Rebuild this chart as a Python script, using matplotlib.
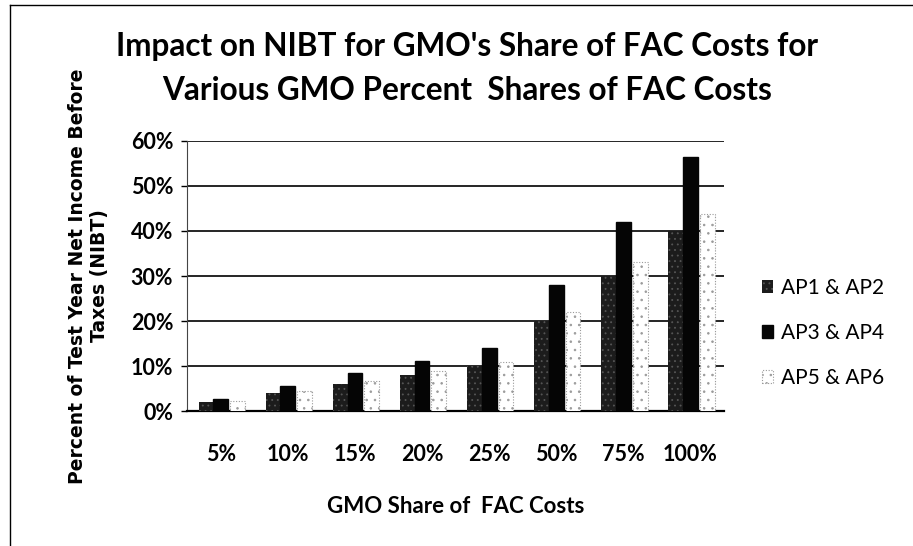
import numpy as np
import matplotlib
matplotlib.use("Agg")
import matplotlib.pyplot as plt
from matplotlib.lines import Line2D
from matplotlib.ticker import PercentFormatter

# data (percent of NIBT)
categories = ["5%", "10%", "15%", "20%", "25%", "50%", "75%", "100%"]
ap1_ap2 = [2.0, 4.0, 6.0, 8.0, 10.0, 20.0, 30.0, 40.0]
ap3_ap4 = [2.8, 5.6, 8.4, 11.2, 14.0, 28.0, 42.0, 56.5]
ap5_ap6 = [2.2, 4.4, 6.6, 8.8, 11.0, 22.0, 33.0, 43.8]
series_names = ["AP1 & AP2", "AP3 & AP4", "AP5 & AP6"]

plt.rcParams["hatch.linewidth"] = 0.6

fig = plt.figure(figsize=(9.13, 5.46), dpi=100)
ax = fig.add_axes([0.205, 0.247, 0.588, 0.495])

x = np.arange(len(categories))
w = 0.22
b1 = ax.bar(x - w, ap1_ap2, w, color="#1c1c1c", label=series_names[0], zorder=3)
for p in b1:
    p.set_hatch("...")
    p.set_edgecolor("#555555")
    p.set_linewidth(0)
b2 = ax.bar(x, ap3_ap4, w, color="#050505", edgecolor="#050505", label=series_names[1], zorder=3)
b3 = ax.bar(x + w + 0.03, ap5_ap6, w, color="white", edgecolor="#9a9a9a", linewidth=0.8,
            linestyle=(0, (1, 1.5)), hatch="..", label=series_names[2], zorder=3)

ax.set_xlim(-0.5, len(categories) - 0.5)
ax.set_ylim(0, 60)
ax.set_yticks(np.arange(0, 61, 10))
ax.yaxis.set_major_formatter(PercentFormatter(decimals=0))
ax.set_xticks(x)
ax.set_xticklabels(categories)
ax.grid(axis="y", color="black", linewidth=1.2, zorder=0)
ax.tick_params(axis="x", length=0, pad=24, labelsize=15.5)
ax.tick_params(axis="y", length=4, width=1, pad=6, labelsize=15.5)
for lab in ax.get_xticklabels() + ax.get_yticklabels():
    lab.set_family("Lato")
    lab.set_fontweight("bold")

for s in ["top", "right"]:
    ax.spines[s].set_visible(False)
ax.spines["left"].set_linewidth(0.8)
ax.spines["left"].set_color("#444444")
ax.spines["bottom"].set_linewidth(1.6)

ax.set_xlabel("GMO Share of  FAC Costs", family="Lato", fontweight="bold", fontsize=16, labelpad=22)
ax.set_ylabel("Percent of Test Year Net Income Before\nTaxes (NIBT)", family="DejaVu Sans",
              fontweight="bold", fontsize=13.5, labelpad=16, linespacing=1.2)

fig.text(0.512, 0.915, "Impact on NIBT for GMO's Share of FAC Costs for", ha="center", va="center",
         family="Lato", fontweight="bold", fontsize=22.7)
fig.text(0.512, 0.835, "Various GMO Percent  Shares of FAC Costs", ha="center", va="center",
         family="Lato", fontweight="bold", fontsize=22.7)

leg = ax.legend(loc="center left", bbox_to_anchor=(1.035, 0.29), frameon=False, prop={"family": "Lato", "size": 15},
                handlelength=0.55, handleheight=0.55, handletextpad=0.4, labelspacing=1.2)

# outer frame (top and left edges visible in the scan)
fig.add_artist(Line2D([0.011, 1.0], [0.991, 0.991], transform=fig.transFigure, color="black", linewidth=1.0))
fig.add_artist(Line2D([0.011, 0.011], [0.0, 0.991], transform=fig.transFigure, color="black", linewidth=1.0))

plt.savefig("out.png", dpi=100)
